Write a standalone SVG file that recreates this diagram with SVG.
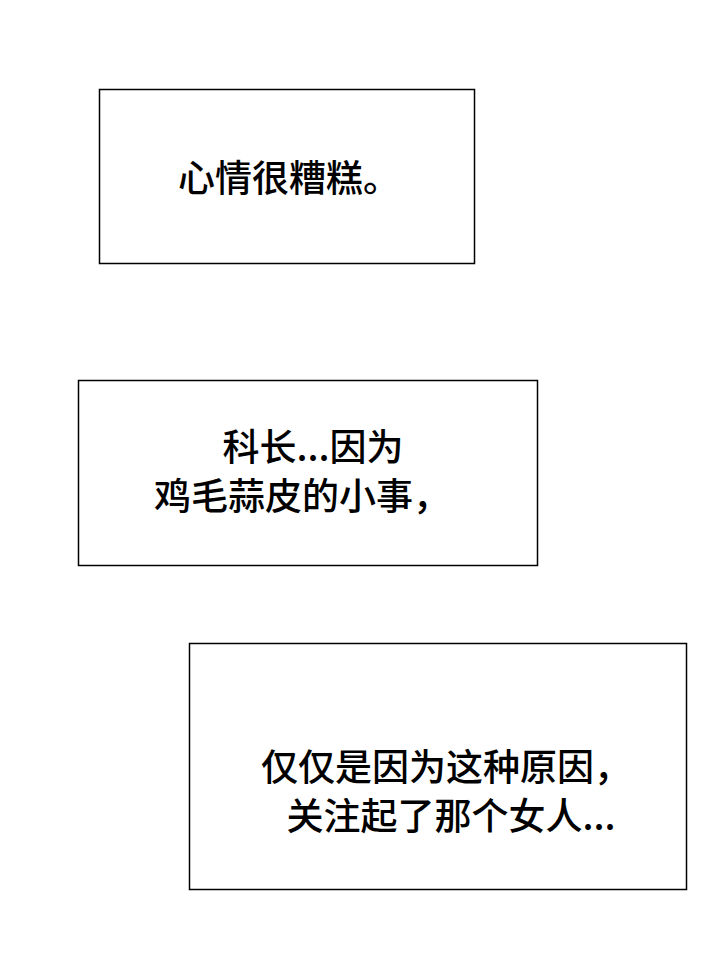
<svg xmlns="http://www.w3.org/2000/svg" width="720" height="959" viewBox="0 0 720 959">
<style>
.b{fill:#fff;stroke:#000;stroke-width:1.5}
.t{font-family:"Noto Sans CJK SC","Noto Sans",sans-serif;font-size:37px;font-weight:500;fill:#000;text-anchor:middle}
</style>
<rect width="720" height="959" fill="#fff"/>
<g id="n1"><rect class="b" x="99.5" y="89.5" width="375" height="174"/><text class="t" x="289" y="192">心情很糟糕。</text></g>
<g id="n2"><rect class="b" x="78.5" y="380.5" width="459" height="185"/><text class="t" x="313" y="461">科长...因为</text><text class="t" x="302" y="510">鸡毛蒜皮的小事，</text></g>
<g id="n3"><rect class="b" x="189.5" y="643.5" width="497" height="246"/><text class="t" x="446" y="781">仅仅是因为这种原因，</text><text class="t" x="451" y="830">关注起了那个女人...</text></g>
<g id="connectors"/>
</svg>
